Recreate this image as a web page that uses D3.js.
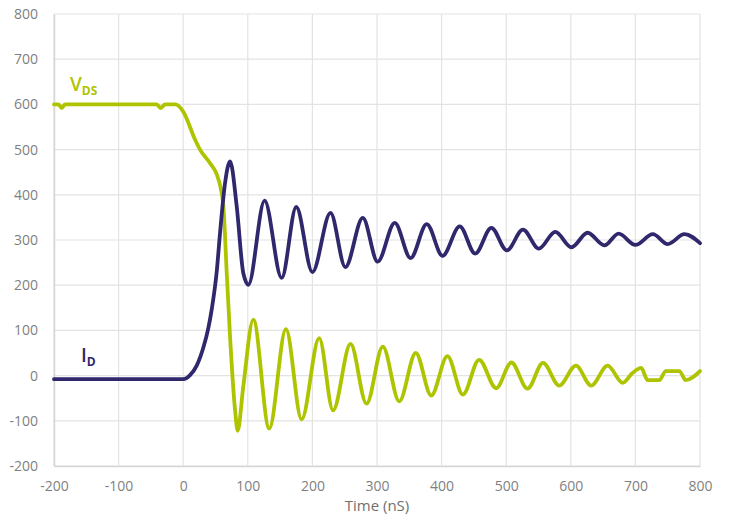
<!DOCTYPE html>
<html>
<head>
<meta charset="utf-8">
<script src="https://cdn.jsdelivr.net/npm/d3@7"></script>
<style>
  html, body { margin: 0; padding: 0; background: #fff; }
  svg text { font-family: "Open Sans", "Noto Sans", sans-serif; }
</style>
</head>
<body>
<svg id="chart" width="730" height="517"></svg>
<script>
// ---- data ----
const xTicks = [-200, -100, 0, 100, 200, 300, 400, 500, 600, 700, 800];
const yTicks = [-200, -100, 0, 100, 200, 300, 400, 500, 600, 700, 800];

const vdsTime = [-200, -193, -188, -183, -41, -35, -28, -12, 0, 18.4, 26, 41.6, 52, 58, 62.2, 67.4, 72.5, 80.2, 84.4, 93, 108.5, 133.2, 159, 183.3, 210.5, 232, 259, 283.8, 309, 334.5, 360, 384, 409, 433, 458, 484.5, 508, 533, 557, 582, 608, 631.5, 657, 680.4, 695, 709, 719, 737, 747, 768, 778, 800];
const vdsValue = [600, 600, 592, 600, 600, 592, 600, 600, 584, 522, 500, 470, 445, 415, 375, 227, 87, -75, -122, -24, 124, -117, 103, -97, 83, -77, 70, -62, 64, -57, 50, -44, 43, -42, 35, -28, 29, -29, 28, -22, 22, -22, 22, -16, 5, 17, -10, -10, 10, 10, -10, 10];

const idTime = [-200, 0, 10.6, 20.9, 31.2, 38.9, 44.1, 51.9, 57, 64.8, 72.6, 82.8, 93, 100.8, 126, 152.4, 175, 200, 228, 251, 278, 301, 327.5, 352, 377, 401.5, 428, 452, 477, 501, 526, 550.5, 576, 601, 626, 652, 674, 700, 727, 750, 776, 800];
const idValue = [-8, -8, 1, 22, 62, 105, 146, 230, 315, 426, 474, 375, 227, 201, 387, 216, 373, 229, 360, 240, 349, 252, 338, 260, 335, 265, 330, 270, 327, 277, 323, 281, 318, 284, 316, 288, 314, 289, 313, 291, 313, 293];

const vdsColor = "#afc400";
const idColor = "#2f286d";

// ---- layout ----
const svg = d3.select("#chart");
const margin = {left: 54, right: 30, top: 14, bottom: 51};
const W = 730, H = 517;
const x = d3.scaleLinear().domain([-200, 800]).range([margin.left, W - margin.right]);
const y = d3.scaleLinear().domain([-200, 800]).range([H - margin.bottom, margin.top]);

// grid
const grid = svg.append("g");
grid.selectAll("line.v").data(xTicks).join("line")
  .attr("x1", d => x(d)).attr("x2", d => x(d))
  .attr("y1", y(-200)).attr("y2", y(800))
  .attr("stroke", "#e3e3e3").attr("stroke-width", 1.2);
grid.selectAll("line.h").data(yTicks).join("line")
  .attr("x1", x(-200)).attr("x2", x(800))
  .attr("y1", d => y(d)).attr("y2", d => y(d))
  .attr("stroke", "#e3e3e3").attr("stroke-width", 1.2);

// axes
const fmt = d => String(d);
const xAxis = d3.axisBottom(x).tickValues(xTicks).tickFormat(fmt).tickSize(0).tickPadding(15);
const yAxis = d3.axisLeft(y).tickValues(yTicks).tickFormat(fmt).tickSize(0).tickPadding(16);
const gx = svg.append("g").attr("transform", `translate(0,${y(-200)})`).call(xAxis);
const gy = svg.append("g").attr("transform", `translate(${x(-200)},0)`).call(yAxis);
[gx, gy].forEach(g => {
  g.select(".domain").attr("stroke", "#d6d6d6").attr("stroke-width", 1.5);
  g.selectAll("text").attr("fill", "#7f7f7f").style("font-size", "14px");
});

svg.append("text")
  .attr("x", (x(-200) + x(800)) / 2).attr("y", 511)
  .attr("text-anchor", "middle")
  .attr("fill", "#6f6f6f").style("font-size", "15px")
  .text("Time (nS)");

// lines
const line = d3.line().x(d => x(d[0])).y(d => y(d[1])).curve(d3.curveMonotoneX);
const vds = d3.zip(vdsTime, vdsValue);
const id = d3.zip(idTime, idValue);

svg.append("path").datum(vds).attr("d", line)
  .attr("fill", "none").attr("stroke", vdsColor).attr("stroke-width", 3.8)
  .attr("stroke-linejoin", "round").attr("stroke-linecap", "round");
svg.append("path").datum(id).attr("d", line)
  .attr("fill", "none").attr("stroke", idColor).attr("stroke-width", 3.8)
  .attr("stroke-linejoin", "round").attr("stroke-linecap", "round");

// series labels
const vLab = svg.append("text").attr("x", 70).attr("y", 91)
  .attr("fill", vdsColor).style("font-size", "19px").style("font-weight", "600");
vLab.append("tspan").text("V");
vLab.append("tspan").attr("dy", 4).style("font-size", "12px").style("font-weight", "700").text("DS");

const iLab = svg.append("text").attr("x", 81).attr("y", 362)
  .attr("fill", idColor).style("font-size", "19px").style("font-weight", "600");
iLab.append("tspan").text("I");
iLab.append("tspan").attr("dy", 4).style("font-size", "12px").style("font-weight", "700").text("D");
</script>
</body>
</html>
